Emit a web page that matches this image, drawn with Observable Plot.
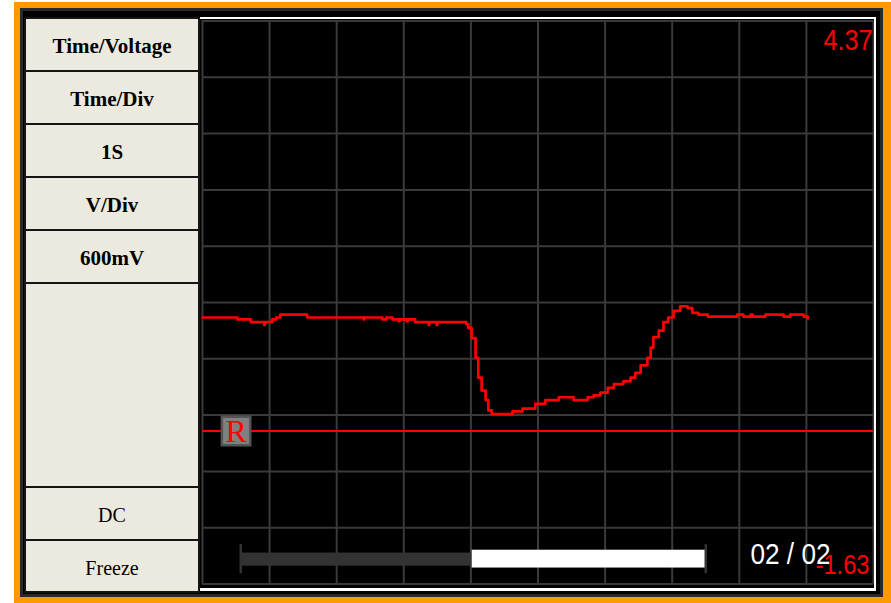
<!DOCTYPE html>
<html><head><meta charset="utf-8">
<script src="https://cdn.jsdelivr.net/npm/d3@7"></script>
<script src="https://cdn.jsdelivr.net/npm/@observablehq/plot@0.6"></script>
<style>
html,body{margin:0;padding:0;background:#fff;width:891px;height:603px;overflow:hidden;position:relative}
#orange{position:absolute;left:14px;top:2px;width:877px;height:601px;background:#FF9900}
#frame{position:absolute;left:20px;top:8px;width:863px;height:589px;background:#000;box-shadow:inset 0 0 0 3px #2a2a2a}
#panel{position:absolute;left:24px;top:17px;width:176px;height:576px;background:#151515}
.btn{position:absolute;left:2px;width:172px;box-sizing:border-box;padding-top:4px;background:#ECE9DF;display:flex;align-items:center;justify-content:center;font-family:"Liberation Serif","Times New Roman",serif;font-size:20px;color:#000}
.b{font-weight:bold;font-size:21px}
#screen{position:absolute;left:200px;top:17px}
#wframe{position:absolute;left:200px;top:17px;width:674px;height:569px;border-top:2px solid #fff;border-right:2px solid #fff;border-bottom:3px solid #fff;pointer-events:none}
</style></head>
<body>
<div id="orange"></div>
<div id="frame"></div>
<div id="panel"></div>
<div id="screen"></div>
<div id="wframe"></div>
<script>
// ---- data ----
const timeSec = [0,0.52,0.72,0.92,0.93,1.04,1.10,1.16,1.56,2.40,2.41,2.68,2.74,2.83,2.92,2.94,3.04,3.06,3.17,3.37,3.38,3.49,3.50,3.93,3.96,4.01,4.07,4.11,4.16,4.22,4.26,4.31,4.62,4.77,4.96,5.11,5.31,5.53,5.74,5.83,5.93,6.04,6.13,6.27,6.38,6.45,6.53,6.63,6.68,6.72,6.80,6.87,6.94,7.02,7.12,7.23,7.30,7.39,7.53,7.97,8.06,8.17,8.20,8.39,8.66,8.76,8.96,9.02];
const voltage = [1.21,1.19,1.16,1.13,1.16,1.19,1.21,1.24,1.21,1.19,1.21,1.19,1.21,1.19,1.17,1.19,1.17,1.19,1.16,1.13,1.16,1.13,1.16,1.14,1.10,0.99,0.78,0.57,0.43,0.33,0.22,0.18,0.21,0.24,0.29,0.33,0.36,0.33,0.36,0.38,0.41,0.46,0.50,0.53,0.57,0.62,0.70,0.78,0.89,1.00,1.07,1.16,1.21,1.28,1.33,1.31,1.26,1.24,1.22,1.24,1.22,1.24,1.22,1.24,1.22,1.24,1.22,1.20];
const timeDivs = [0,1,2,3,4,5,6,7,8,9,10];           // 1 s / div
const voltDivs = [-1.63,-1.03,-0.43,0.17,0.77,1.37,1.97,2.57,3.17,3.77,4.37]; // 600 mV / div
const vMax = "4.37", vMin = "-1.63";
const refLevel = [0];
const frameLabel = "02 / 02";
const viewPast = [0.57, 4.02];   // seconds, scrolled part
const viewNow = [4.02, 7.50];    // seconds, current window
const panelLabels = ["Time/Voltage","Time/Div","1S","V/Div","600mV","","DC","Freeze"];

// ---- panel ----
const tops = [19,72,125,178,231,284,488,541];
const hs = [51,51,51,51,51,202,51,50];
const panel = document.getElementById("panel");
panelLabels.forEach((t,i)=>{
  const d = document.createElement("div");
  d.className = "btn" + (i<5 ? " b" : "");
  d.style.top = (tops[i]-17)+"px";
  d.style.height = hs[i]+"px";
  d.textContent = t;
  panel.appendChild(d);
});

// ---- scope ----
const trace = timeSec.map((t,i)=>({t, v: voltage[i]}));
const red = "#FF0000", grid = "#3a3a3a";
const lcd = "Liberation Sans, Arial, sans-serif";
const chart = Plot.plot({
  width: 675, height: 571,
  marginLeft: 2, marginRight: 2, marginTop: 3.5, marginBottom: 4.5,
  style: {background: "#000", overflow: "visible"},
  x: {domain: [0,10], axis: null},
  y: {domain: [-1.63, 4.37], axis: null},
  marks: [
    Plot.ruleX(timeDivs, {stroke: grid, strokeWidth: 2}),
    Plot.ruleY(voltDivs, {stroke: grid, strokeWidth: 2}),
    Plot.ruleY(refLevel, {stroke: red, strokeWidth: 2}),
    Plot.line(trace, {x: "t", y: "v", stroke: red, strokeWidth: 2.7, curve: "step-after"}),
    Plot.dot(refLevel, {x: 0.5, y: d=>d, symbol: "square", r: 16, fill: "#808080", stroke: "#555", strokeWidth: 2.5}),
    Plot.text(refLevel, {x: 0.5, y: d=>d, text: ()=>"R", fill: red, fontSize: 32, fontFamily: "Liberation Serif, serif", dy: 1}),
    Plot.rect([viewPast], {x1: d=>d[0], x2: d=>d[1], y1: -1.30, y2: -1.44, fill: "#333"}),
    Plot.rect([viewNow], {x1: d=>d[0], x2: d=>d[1], y1: -1.27, y2: -1.46, fill: "#fff"}),
    Plot.ruleX([viewPast[0], viewNow[1]], {y1: -1.21, y2: -1.52, stroke: "#333", strokeWidth: 2.5}),
    Plot.text([frameLabel], {frameAnchor: "bottom-right", textAnchor: "end", lineAnchor: "bottom", dx: -43, dy: -20.5, fill: "#fff", fontSize: 29, fontFamily: lcd}),
    Plot.text([vMax], {frameAnchor: "top-right", textAnchor: "end", lineAnchor: "top", dx: -1, dy: 7.5, fill: red, fontSize: 30, fontFamily: lcd}),
    Plot.text([vMin], {frameAnchor: "bottom-right", textAnchor: "end", lineAnchor: "bottom", dx: -4, dy: -10.5, fill: red, fontSize: 28, fontFamily: lcd})
  ]
});
// condense the LCD-style labels to the reference widths
const widths = {[vMax]: 49, [vMin]: 54, [frameLabel]: 80};
d3.select(chart).selectAll("text").each(function(){
  const w = widths[this.textContent];
  if (w) { this.setAttribute("textLength", w); this.setAttribute("lengthAdjust", "spacingAndGlyphs"); }
});
document.getElementById("screen").appendChild(chart);
</script>
</body></html>
